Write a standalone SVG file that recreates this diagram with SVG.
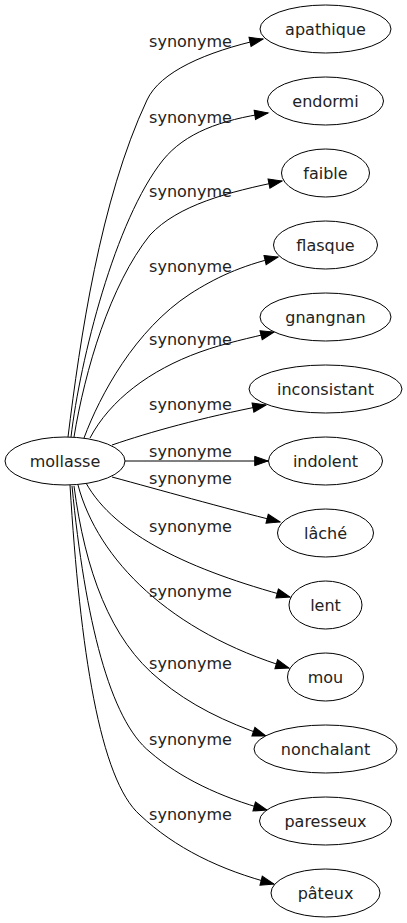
<svg xmlns="http://www.w3.org/2000/svg" width="407" height="923" viewBox="0 0 407 923">
<style>
.n ellipse{fill:#fff;stroke:#000;stroke-width:1}
text{font-family:"DejaVu Sans",Verdana,sans-serif;font-size:16px;fill:#222;text-anchor:middle}
.e path{fill:none;stroke:#000;stroke-width:1;marker-end:url(#arr)}
</style>
<defs>
<marker id="arr" markerUnits="userSpaceOnUse" markerWidth="16" markerHeight="12" refX="13.3" refY="4.67" orient="auto" overflow="visible">
<path d="M0,0 L13.3,4.67 L0,9.33 z" fill="#000" stroke="#000" stroke-width="1"/>
</marker>
</defs>
<rect width="407" height="923" fill="#fff"/>
<g id="connectors" class="e">
<path d="M68,437 C80,340 100,200 147,100 C160,72 205,52 263,39"/>
<path d="M71,437 C80,360 115,220 163,160 C185,133 220,120 268,113"/>
<path d="M74,437 C85,370 110,285 150,235 C178,205 228,192 282,181"/>
<path d="M84,438 C100,395 135,330 190,294 C215,278 240,266 278,257"/>
<path d="M90,438 C110,400 150,370 200,352 C225,343 250,338 274,332"/>
<path d="M112,445 C150,432 200,418 266,405"/>
<path d="M125,461 L268,461"/>
<path d="M112,477 C160,490 220,507 280,522"/>
<path d="M86,483 C115,535 190,570 290,597"/>
<path d="M78,485 C98,560 170,632 289,668"/>
<path d="M74,486 C85,570 110,640 160,680 C190,705 225,722 266,736"/>
<path d="M72,486 C85,620 110,720 150,752 C180,778 220,797 267,810"/>
<path d="M70,485 C80,650 100,780 140,815 C175,848 220,870 274,884"/>
<text x="190.5" y="46.5">synonyme</text>
<text x="190.5" y="122.5">synonyme</text>
<text x="190.5" y="197">synonyme</text>
<text x="190.5" y="271.5">synonyme</text>
<text x="190.5" y="345">synonyme</text>
<text x="190.5" y="410">synonyme</text>
<text x="190.5" y="456.5">synonyme</text>
<text x="190.5" y="484">synonyme</text>
<text x="190.5" y="531.5">synonyme</text>
<text x="190.5" y="596.5">synonyme</text>
<text x="190.5" y="669">synonyme</text>
<text x="190.5" y="745">synonyme</text>
<text x="190.5" y="819.5">synonyme</text>
</g>
<g id="node-mollasse" class="n"><ellipse cx="65" cy="461" rx="60" ry="24"/><text x="65" y="466.5">mollasse</text></g>
<g id="node-apathique" class="n"><ellipse cx="325.5" cy="29" rx="65.5" ry="24"/><text x="325.5" y="34.5">apathique</text></g>
<g id="node-endormi" class="n"><ellipse cx="325.5" cy="101" rx="58" ry="24"/><text x="325.5" y="106.5">endormi</text></g>
<g id="node-faible" class="n"><ellipse cx="325.5" cy="173" rx="44" ry="24"/><text x="325.5" y="178.5">faible</text></g>
<g id="node-flasque" class="n"><ellipse cx="325.5" cy="245" rx="52" ry="24"/><text x="325.5" y="250.5">flasque</text></g>
<g id="node-gnangnan" class="n"><ellipse cx="325.5" cy="317" rx="65.5" ry="24"/><text x="325.5" y="322.5">gnangnan</text></g>
<g id="node-inconsistant" class="n"><ellipse cx="325.5" cy="389" rx="76.5" ry="24"/><text x="325.5" y="394.5">inconsistant</text></g>
<g id="node-indolent" class="n"><ellipse cx="325.5" cy="461" rx="57" ry="24"/><text x="325.5" y="466.5">indolent</text></g>
<g id="node-lache" class="n"><ellipse cx="325.5" cy="533" rx="48" ry="24"/><text x="325.5" y="538.5">lâché</text></g>
<g id="node-lent" class="n"><ellipse cx="325.5" cy="605" rx="36.5" ry="24"/><text x="325.5" y="610.5">lent</text></g>
<g id="node-mou" class="n"><ellipse cx="325.5" cy="677" rx="38" ry="24"/><text x="325.5" y="682.5">mou</text></g>
<g id="node-nonchalant" class="n"><ellipse cx="325.5" cy="749" rx="71.5" ry="24"/><text x="325.5" y="754.5">nonchalant</text></g>
<g id="node-paresseux" class="n"><ellipse cx="325.5" cy="821" rx="66" ry="24"/><text x="325.5" y="826.5">paresseux</text></g>
<g id="node-pateux" class="n"><ellipse cx="325.5" cy="893" rx="54.5" ry="24"/><text x="325.5" y="898.5">pâteux</text></g>
</svg>
